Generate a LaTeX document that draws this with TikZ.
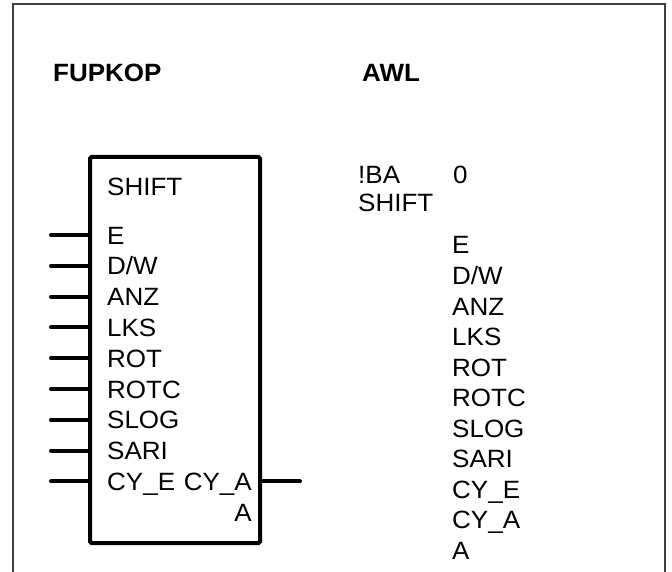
\documentclass[tikz,border=0pt]{standalone}
\usepackage{fontspec}
\setmainfont{Liberation Sans}[FakeStretch=1.04]
\usetikzlibrary{positioning}
\newcommand{\plcsize}{\fontsize{25}{29}\selectfont}
\tikzset{
  frameline/.style={draw=black!75,line width=1.3pt},
  fbbox/.style={rectangle,draw=black,line width=4pt,rounded corners=1.5pt,
    minimum width=170pt,minimum height=386pt,inner sep=0pt},
  pin/.style={draw=black,line width=4pt,line cap=round},
  lab/.style={inner sep=0pt,font=\plcsize,anchor=base west},
  head/.style={lab,font=\plcsize\bfseries},
}

\begin{document}
\begin{tikzpicture}[x=1pt,y=-1pt]
\useasboundingbox (0,0) rectangle (672,572);
% ---- frame ----
\draw[frameline] (13,572) -- (13,4) -- (665,4) -- (665,572);

% ---- headers ----
\node[head] (hfup) at (53,82) {FUPKOP};
\node[head] (hawl) at (362,82) {AWL};

% ---- FUP/KOP block ----
\node[fbbox] (box) at (175,350) {};
\node[lab] (bname) at (107,196) {SHIFT};
\foreach \t [count=\i] in {E,D/W,ANZ,LKS,ROT,ROTC,SLOG,SARI,CY\_E}{
  \node[lab] (in\i) at (107,{244+30.8*(\i-1)}) {\t};
  \coordinate (pinL\i) at (51,{235+30.8*(\i-1)});
  \draw[pin] (pinL\i) -- (box.west |- pinL\i);
}
\node[lab,anchor=base east] (out1) at (252,490.4) {CY\_A};
\node[lab,anchor=base east] (out2) at (252,521.2) {A};
\coordinate (pinR) at (300,481.4);
\draw[pin] (box.east |- pinR) -- (pinR);

% ---- AWL listing ----
\node[lab] (ba) at (358,184) {!BA};
\node[lab] (banr) at (453,184) {0};
\node[lab] (aname) at (358,212) {SHIFT};
\foreach \t [count=\i] in {E,D/W,ANZ,LKS,ROT,ROTC,SLOG,SARI,CY\_E,CY\_A,A}{
  \node[lab] (awl\i) at (452,{254+30.5*(\i-1)}) {\t};
}
\end{tikzpicture}
\end{document}
